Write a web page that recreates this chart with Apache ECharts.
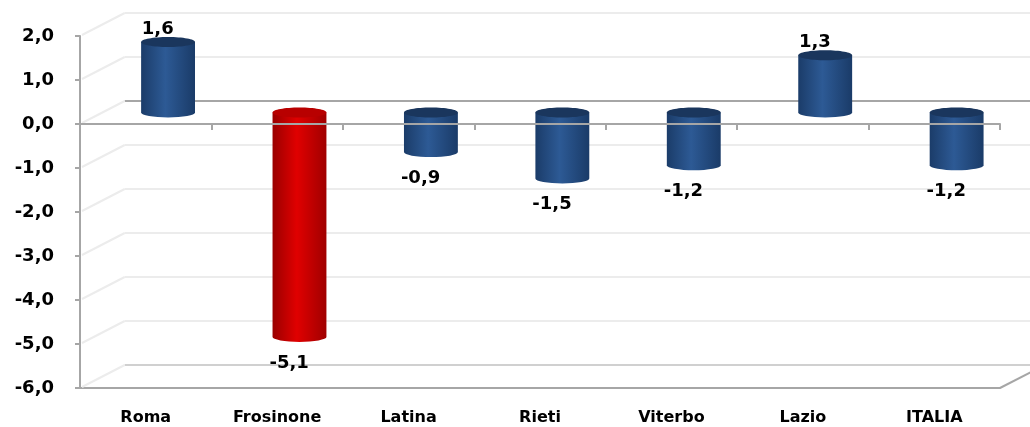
<!DOCTYPE html>
<html>
<head>
<meta charset="utf-8">
<script src="https://cdn.jsdelivr.net/npm/echarts@6/dist/echarts.min.js"></script>
<style>
  html, body { margin: 0; padding: 0; background: #fff; }
  #main { width: 1030px; height: 427px; }
</style>
</head>
<body>
<div id="main"></div>
<script>
var categories = ['Roma', 'Frosinone', 'Latina', 'Rieti', 'Viterbo', 'Lazio', 'ITALIA'];
var values = [1.6, -5.1, -0.9, -1.5, -1.2, 1.3, -1.2];
var highlight = [false, true, false, false, false, false, false];
var yTicks = [-6, -5, -4, -3, -2, -1, 0, 1, 2];

var chart = echarts.init(document.getElementById('main'), null, { renderer: 'canvas' });

function fmt(v) {
  return v.toFixed(1).replace('.', ',');
}

// depth of the 3d box, as a share of the band width
function depth(bandW) {
  return { dx: bandW * 0.34, dy: -bandW * 0.175 };
}

function renderWall(params, api) {
  var cs = params.coordSys;
  var v = api.value(0);
  var y = api.coord([0, v])[1];
  var d = depth(cs.width / categories.length);
  var left = cs.x, right = cs.x + cs.width;
  var back = v === 0 ? '#a6a6a6' : (v === -6 ? '#d0d0d0' : '#ececec');
  var children = [
    { type: 'line', shape: { x1: left + d.dx, y1: y + d.dy, x2: right + d.dx + 40, y2: y + d.dy },
      style: { stroke: back, lineWidth: 2 } },
    { type: 'line', shape: { x1: left + 2, y1: y - 1, x2: left + d.dx, y2: y + d.dy },
      style: { stroke: '#ececec', lineWidth: 2 } }
  ];
  if (v === -6) {
    children.push({ type: 'line', shape: { x1: right, y1: y, x2: right + d.dx, y2: y + d.dy },
      style: { stroke: '#a6a6a6', lineWidth: 2 } });
  }
  return { type: 'group', children: children };
}

function renderCylinder(params, api) {
  var idx = api.value(0);
  var v = api.value(1);
  var bandW = api.size([1, 0])[0];
  var d = depth(bandW);
  var p0 = api.coord([idx, 0]);
  var p1 = api.coord([idx, v]);
  var cx = p0[0] + d.dx / 2;
  var top = Math.min(p0[1], p1[1]) + d.dy / 2;
  var bottom = Math.max(p0[1], p1[1]) + d.dy / 2;
  var w = bandW * 0.41;
  var rx = w / 2, ry = 5;
  var red = highlight[idx];
  var grad = new echarts.graphic.LinearGradient(0, 0, 1, 0, red ? [
    { offset: 0, color: '#9a0000' },
    { offset: 0.45, color: '#e00000' },
    { offset: 1, color: '#a00000' }
  ] : [
    { offset: 0, color: '#1b3c69' },
    { offset: 0.45, color: '#2d5a95' },
    { offset: 1, color: '#1a3b68' }
  ]);
  var body = 'M' + (cx - rx) + ',' + top +
    ' L' + (cx - rx) + ',' + bottom +
    ' A' + rx + ',' + ry + ' 0 0 0 ' + (cx + rx) + ',' + bottom +
    ' L' + (cx + rx) + ',' + top + ' Z';
  var labelY = v >= 0 ? top - 13 : bottom + 26;
  return {
    type: 'group',
    children: [
      { type: 'path', shape: { pathData: body }, style: { fill: grad } },
      { type: 'ellipse', shape: { cx: cx, cy: top, rx: rx, ry: ry },
        style: { fill: red ? '#b80000' : '#1a365d' } },
      { type: 'text', x: p0[0] + 12, y: labelY,
        style: { text: fmt(v), fill: '#000', font: 'bold 18px "DejaVu Sans"',
          align: 'center', verticalAlign: 'middle' } }
    ]
  };
}

var option = {
  backgroundColor: '#ffffff',
  animation: false,
  grid: { left: 80, right: 30, top: 36, bottom: 39 },
  xAxis: [
    {
      type: 'category',
      data: categories,
      position: 'bottom',
      axisLine: { show: true, onZero: false, lineStyle: { color: '#a6a6a6', width: 2 } },
      axisTick: { show: false },
      axisLabel: { margin: 22, color: '#000', fontSize: 16, fontWeight: 'bold', fontFamily: 'DejaVu Sans' }
    },
    {
      type: 'category',
      data: categories,
      position: 'bottom',
      z: 10,
      axisLine: { show: true, onZero: true, lineStyle: { color: '#a6a6a6', width: 2 } },
      axisTick: { show: true, length: 6, lineStyle: { color: '#a6a6a6', width: 2 } },
      axisLabel: { show: false }
    }
  ],
  yAxis: {
    type: 'value',
    min: -6,
    max: 2,
    interval: 1,
    axisLine: { show: true, lineStyle: { color: '#a6a6a6', width: 2 } },
    axisTick: { show: true, length: 5, lineStyle: { color: '#a6a6a6', width: 2 } },
    splitLine: { show: false },
    axisLabel: {
      margin: 26,
      padding: [6, 0, 0, 0],
      color: '#000',
      fontSize: 18,
      fontWeight: 'bold',
      fontFamily: 'DejaVu Sans',
      formatter: function (v) { return fmt(v); }
    }
  },
  series: [
    {
      type: 'custom',
      renderItem: renderWall,
      z: 1,
      silent: true,
      clip: false,
      encode: { y: 0 },
      data: yTicks.map(function (t) { return [t]; })
    },
    {
      type: 'custom',
      renderItem: renderCylinder,
      z: 3,
      clip: false,
      encode: { x: 0, y: 1 },
      data: values.map(function (v, i) { return [i, v]; })
    }
  ]
};

chart.setOption(option);
</script>
</body>
</html>
